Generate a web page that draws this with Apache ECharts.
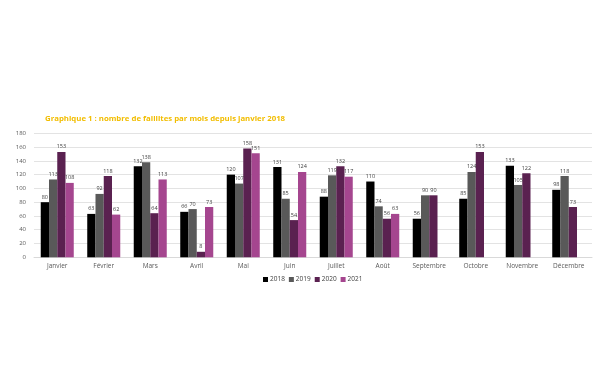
<!DOCTYPE html>
<html><head><meta charset="utf-8">
<script src="https://cdn.jsdelivr.net/npm/echarts@6/dist/echarts.min.js"></script>
<style>html,body{margin:0;padding:0;background:#fff}#c{width:600px;height:383px}</style>
</head><body><div id="c"></div>
<script>
const categories = ['Janvier','Février','Mars','Avril','Mai','Juin','Juillet','Août','Septembre','Octobre','Novembre','Décembre'];
const s2018 = [80,63,132,66,120,131,88,110,56,85,133,98];
const s2019 = [113,92,138,70,107,85,119,74,90,124,105,118];
const s2020 = [153,118,64,8,158,54,132,56,90,153,122,73];
const s2021 = [108,62,113,73,151,124,117,63,null,null,null,null];
const yTicks = {min:0, max:180, interval:20};
const seriesDefs = [
  {name:'2018', data:s2018, color:'#000000'},
  {name:'2019', data:s2019, color:'#595959'},
  {name:'2020', data:s2020, color:'#5a2150'},
  {name:'2021', data:s2021, color:'#a5468f'}
];
const chart = echarts.init(document.getElementById('c'), null, {renderer:'canvas'});
const font = 'Open Sans, Liberation Sans, sans-serif';
chart.setOption({
  animation:false,
  backgroundColor:'#fff',
  title:{text:'Graphique 1 : nombre de faillites par mois depuis janvier 2018', left:40, top:110,
    textStyle:{color:'#f2bd00', fontSize:7.8, fontWeight:'bold', fontFamily:font}},
  legend:{top:271, left:258, itemWidth:5, itemHeight:5, itemGap:4, icon:'rect',
    textStyle:{fontSize:6.5, color:'#404040', fontFamily:font, padding:[0,0,0,-3]}},
  grid:{left:34, right:8, top:133.3, bottom:125.7, containLabel:false},
  xAxis:{type:'category', data:categories,
    axisLine:{lineStyle:{color:'#d9d9d9'}}, axisTick:{show:false},
    axisLabel:{fontSize:6.5, color:'#595959', fontFamily:font, margin:5}},
  yAxis:{type:'value', min:yTicks.min, max:yTicks.max, interval:yTicks.interval,
    axisLine:{show:false}, axisTick:{show:false},
    splitLine:{lineStyle:{color:'#e3e3e3', width:1}},
    axisLabel:{fontSize:6, color:'#595959', fontFamily:font, margin:8}},
  series: seriesDefs.map(s=>({
    name:s.name, type:'bar', data:s.data, barGap:'0%', barCategoryGap:'29%',
    itemStyle:{color:s.color},
    label:{show:true, position:'top', fontSize:5.5, color:'#404040', fontFamily:font, distance:2}
  }))
});
</script></body></html>
